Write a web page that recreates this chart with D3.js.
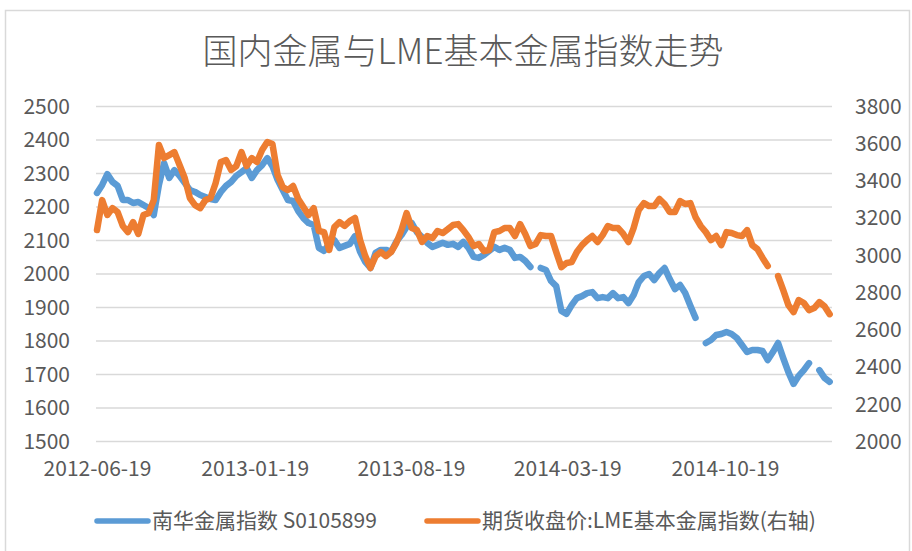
<!DOCTYPE html>
<html>
<head>
<meta charset="utf-8">
<script src="https://cdn.jsdelivr.net/npm/d3@7"></script>
<style>
  html, body { margin: 0; padding: 0; background: #fff; }
  svg { display: block; font-family: "Noto Sans CJK SC", "Noto Sans", sans-serif; }
</style>
</head>
<body>
<svg id="chart" width="912" height="551"></svg>
<script>
// weekly samples, starting 2012-06-19
var startDate = '2012-06-19';
var xTickLabels = ['2012-06-19', '2013-01-19', '2013-08-19', '2014-03-19', '2014-10-19'];
var leftTicks = [1500, 1600, 1700, 1800, 1900, 2000, 2100, 2200, 2300, 2400, 2500];
var rightTicks = [2000, 2200, 2400, 2600, 2800, 3000, 3200, 3400, 3600, 3800];
var seriesNames = ['南华金属指数 S0105899', '期货收盘价:LME基本金属指数(右轴)'];

// 南华金属指数 (left axis), null = gap in the source
var nanhua = [
  2242, 2266, 2298, 2275, 2263, 2221, 2221, 2212, 2215, 2206,
  2197, 2176, 2266, 2331, 2287, 2310, 2293, 2272, 2251, 2245,
  2236, 2230, 2224, 2221, 2245, 2263, 2275, 2293, 2304, 2316,
  2287, 2310, 2325, 2346, 2322, 2281, 2251, 2221, 2218, 2188,
  2167, 2152, 2146, 2078, 2069, 2090, 2101, 2078, 2084, 2090,
  2113, 2066, 2036, 2018, 2063, 2072, 2072, 2066, 2096, 2116,
  2140, 2152, 2125, 2110, 2093, 2081, 2087, 2093, 2087, 2090,
  2081, 2096, 2078, 2051, 2048, 2057, 2069, 2081, 2072, 2078,
  2072, 2048, 2051, 2039, 2021, null, 2018, 2012, 1979, 1964,
  1890, 1881, 1907, 1928, 1934, 1943, 1946, 1928, 1931, 1928,
  1943, 1928, 1931, 1913, 1937, 1976, 1994, 2000, 1982, 2003,
  2018, 1985, 1955, 1967, 1943, 1905, 1869, null, 1794, 1803,
  1818, 1821, 1827, 1821, 1809, 1788, 1767, 1773, 1773, 1770,
  1743, 1767, 1794, 1749, 1707, 1672, 1696, 1713, 1734, null,
  1713, 1690, 1678
];

// LME基本金属指数 (right axis)
var lme = [
  3136, 3297, 3217, 3254, 3233, 3158, 3125, 3179, 3115, 3217,
  3227, 3297, 3593, 3523, 3539, 3555, 3486, 3416, 3308, 3270,
  3254, 3297, 3308, 3389, 3502, 3512, 3459, 3480, 3555, 3480,
  3523, 3502, 3566, 3609, 3598, 3432, 3367, 3351, 3373, 3303,
  3260, 3217, 3254, 3131, 3125, 3029, 3152, 3179, 3158, 3184,
  3201, 3082, 2996, 2932, 2996, 3018, 2996, 3018, 3066, 3136,
  3227, 3147, 3136, 3072, 3104, 3093, 3131, 3120, 3141, 3163,
  3168, 3136, 3098, 3050, 3061, 3023, 3029, 3125, 3131, 3147,
  3147, 3104, 3168, 3115, 3050, 3061, 3109, 3104, 3104, 3018,
  2937, 2959, 2964, 3018, 3055, 3082, 3104, 3072, 3109, 3158,
  3147, 3147, 3115, 3072, 3147, 3244, 3281, 3265, 3265, 3303,
  3276, 3233, 3233, 3292, 3276, 3281, 3206, 3158, 3125, 3082,
  3104, 3055, 3125, 3120, 3109, 3104, 3136, 3055, 3034, 2986,
  2943, null, 2889, 2813, 2733, 2695, 2760, 2744, 2706, 2717,
  2749, 2727, 2684
];

var BLUE = '#5b9bd5';
var ORANGE = '#ed7d31';
var TEXT = '#595959';
var GRID = '#d9d9d9';

var parse = d3.utcParse('%Y-%m-%d');
var t0 = parse(startDate);
var dates = nanhua.map(function(d, i) { return d3.utcDay.offset(t0, 7 * i); });

var svg = d3.select('#chart');
var plot = { left: 96, right: 832, top: 106.5, bottom: 441.5 };

// chart frame
svg.append('rect')
  .attr('x', 5.5).attr('y', 10.5)
  .attr('width', 904).attr('height', 548)
  .attr('fill', '#fff')
  .attr('stroke', GRID)
  .attr('stroke-width', 1.5);

var x = d3.scaleUtc()
  .domain([parse(xTickLabels[0]), parse(xTickLabels[4])])
  .range([97, 725]);

var yLeft = d3.scaleLinear().domain([1500, 2500]).range([plot.bottom, plot.top]);
var yRight = d3.scaleLinear().domain([2000, 3800]).range([plot.bottom, plot.top]);

// title
svg.append('text')
  .attr('x', 463).attr('y', 64)
  .attr('text-anchor', 'middle')
  .attr('font-size', 35)
  .attr('font-weight', 300)
  .attr('fill', TEXT)
  .text('国内金属与LME基本金属指数走势');

// gridlines
svg.append('g').selectAll('line')
  .data(leftTicks)
  .enter().append('line')
  .attr('x1', plot.left).attr('x2', plot.right)
  .attr('y1', function(d) { return yLeft(d); })
  .attr('y2', function(d) { return yLeft(d); })
  .attr('stroke', GRID)
  .attr('stroke-width', 1.5);

function styleAxis(g) {
  g.select('.domain').remove();
  g.selectAll('text').attr('font-size', 21).attr('fill', TEXT)
    .attr('font-family', '"Noto Sans CJK SC", sans-serif');
}

// left axis
svg.append('g')
  .attr('transform', 'translate(70,0)')
  .call(d3.axisLeft(yLeft).tickValues(leftTicks).tickFormat(d3.format('d')).tickSize(0).tickPadding(0))
  .call(styleAxis);

// right axis
svg.append('g')
  .attr('transform', 'translate(855,0)')
  .call(d3.axisRight(yRight).tickValues(rightTicks).tickFormat(d3.format('d')).tickSize(0).tickPadding(0))
  .call(styleAxis);

// bottom axis
svg.append('g')
  .attr('transform', 'translate(0,461)')
  .call(d3.axisBottom(x)
    .tickValues(xTickLabels.map(parse))
    .tickFormat(d3.utcFormat('%Y-%m-%d'))
    .tickSize(0).tickPadding(0))
  .call(styleAxis);

// series lines
function drawLine(values, yScale, color) {
  var line = d3.line()
    .defined(function(d) { return d != null; })
    .x(function(d, i) { return x(dates[i]); })
    .y(function(d) { return yScale(d); });
  svg.append('path')
    .datum(values)
    .attr('d', line)
    .attr('fill', 'none')
    .attr('stroke', color)
    .attr('stroke-width', 6.5)
    .attr('stroke-linejoin', 'round')
    .attr('stroke-linecap', 'round');
}
drawLine(nanhua, yLeft, BLUE);
drawLine(lme, yRight, ORANGE);

// legend
var legendItems = [
  { name: seriesNames[0], color: BLUE, x: 97 },
  { name: seriesNames[1], color: ORANGE, x: 427 }
];
var legend = svg.append('g').attr('class', 'legend')
  .selectAll('g')
  .data(legendItems)
  .enter().append('g')
  .attr('transform', function(d) { return 'translate(' + d.x + ',521)'; });

legend.append('line')
  .attr('x1', 0).attr('x2', 51)
  .attr('stroke', function(d) { return d.color; })
  .attr('stroke-width', 5.5)
  .attr('stroke-linecap', 'round');

legend.append('text')
  .attr('x', 55)
  .attr('dy', '0.35em')
  .attr('font-size', 21)
  .attr('fill', TEXT)
  .text(function(d) { return d.name; });
</script>
</body>
</html>
